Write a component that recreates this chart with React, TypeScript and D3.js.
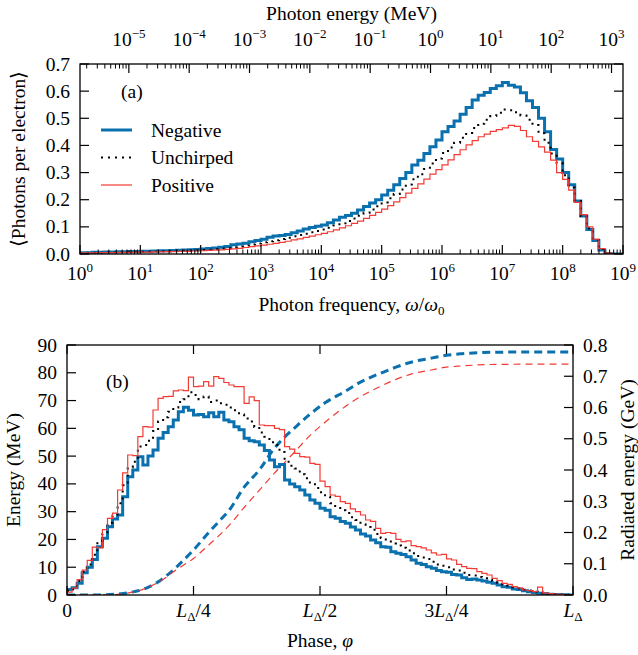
import React from 'react';
import * as d3 from 'd3';

// ---------- Panel (a): photon spectra, 10 log-bins per decade from 10^0 to 10^9 ----------
const freqDecades = [0, 1, 2, 3, 4, 5, 6, 7, 8, 9];
const energyDecades = [-5, -4, -3, -2, -1, 0, 1, 2, 3];
const photonTicks = [0, 0.1, 0.2, 0.3, 0.4, 0.5, 0.6, 0.7];
const photonTickLabels = ['0.0', '0.1', '0.2', '0.3', '0.4', '0.5', '0.6', '0.7'];
const hbarOmega0MeV = 1.55e-6;

const negativeSpectrum = [
  0.005, 0.005, 0.006, 0.006, 0.007, 0.007, 0.008, 0.008, 0.009, 0.009,
  0.010, 0.010, 0.011, 0.012, 0.012, 0.013, 0.014, 0.015, 0.016, 0.017,
  0.018, 0.020, 0.022, 0.025, 0.028, 0.034, 0.037, 0.040, 0.045, 0.050,
  0.054, 0.062, 0.066, 0.068, 0.072, 0.078, 0.085, 0.092, 0.098, 0.102,
  0.107, 0.115, 0.125, 0.135, 0.142, 0.150, 0.162, 0.175, 0.188, 0.200,
  0.217, 0.235, 0.255, 0.278, 0.300, 0.328, 0.345, 0.370, 0.395, 0.420,
  0.450, 0.470, 0.490, 0.515, 0.540, 0.567, 0.585, 0.595, 0.610, 0.620,
  0.632, 0.622, 0.615, 0.594, 0.565, 0.540, 0.500, 0.450, 0.385, 0.350,
  0.300, 0.255, 0.195, 0.140, 0.090, 0.050, 0.015, 0.002, 0, 0,
];
const unchirpedSpectrum = [
  0.004, 0.005, 0.005, 0.005, 0.006, 0.006, 0.007, 0.007, 0.008, 0.008,
  0.008, 0.009, 0.009, 0.010, 0.010, 0.011, 0.012, 0.012, 0.013, 0.014,
  0.015, 0.016, 0.018, 0.020, 0.022, 0.025, 0.028, 0.031, 0.035, 0.039,
  0.043, 0.047, 0.051, 0.055, 0.060, 0.065, 0.070, 0.075, 0.080, 0.085,
  0.090, 0.097, 0.105, 0.113, 0.122, 0.131, 0.141, 0.152, 0.164, 0.176,
  0.190, 0.205, 0.221, 0.238, 0.256, 0.275, 0.294, 0.313, 0.333, 0.352,
  0.372, 0.392, 0.410, 0.428, 0.446, 0.464, 0.480, 0.495, 0.508, 0.520,
  0.532, 0.530, 0.522, 0.510, 0.495, 0.475, 0.445, 0.410, 0.370, 0.335,
  0.290, 0.245, 0.195, 0.140, 0.095, 0.052, 0.018, 0.003, 0, 0,
];
const positiveSpectrum = [
  0.004, 0.004, 0.004, 0.005, 0.005, 0.005, 0.006, 0.006, 0.006, 0.007,
  0.007, 0.007, 0.008, 0.008, 0.009, 0.009, 0.010, 0.010, 0.011, 0.011,
  0.012, 0.013, 0.014, 0.015, 0.017, 0.019, 0.021, 0.024, 0.027, 0.030,
  0.033, 0.036, 0.039, 0.043, 0.047, 0.052, 0.056, 0.061, 0.066, 0.071,
  0.076, 0.082, 0.089, 0.096, 0.104, 0.113, 0.121, 0.131, 0.142, 0.153,
  0.165, 0.178, 0.192, 0.208, 0.224, 0.242, 0.258, 0.276, 0.294, 0.311,
  0.328, 0.347, 0.366, 0.384, 0.402, 0.418, 0.432, 0.442, 0.452, 0.458,
  0.465, 0.474, 0.470, 0.455, 0.432, 0.415, 0.395, 0.375, 0.346, 0.300,
  0.275, 0.235, 0.190, 0.145, 0.100, 0.055, 0.020, 0.004, 0, 0,
];

// ---------- Panel (b): energy vs phase, 100 bins over [0, L_Delta] ----------
const phaseNegative = [
  2.0, 2.6, 4.2, 8.0, 10.0, 12.8, 17.4, 20.4, 24.6, 27.4,
  28.8, 35.4, 42.6, 45.0, 49.8, 46.8, 50.0, 52.2, 56.4, 58.5,
  60.6, 63.0, 66.0, 67.6, 66.5, 64.8, 65.0, 64.2, 65.6, 64.2,
  65.8, 63.0, 62.4, 60.6, 59.5, 56.4, 55.5, 55.2, 54.0, 52.0,
  48.6, 46.2, 47.0, 41.4, 40.0, 39.0, 37.8, 36.0, 34.2, 33.0,
  31.2, 30.5, 28.2, 27.6, 26.5, 25.8, 24.5, 23.4, 22.0, 21.2,
  19.8, 18.8, 17.4, 17.2, 15.6, 15.0, 14.6, 13.8, 12.6, 11.4,
  11.0, 10.2, 9.6, 8.8, 8.4, 8.2, 7.4, 7.2, 6.2, 5.6,
  5.8, 5.4, 5.0, 4.6, 4.2, 3.6, 3.0, 2.8, 2.2, 2.0,
  1.5, 1.2, 0.9, 0.6, 0.5, 0.3, 0.2, 0.1, 0.05, 0.02,
];
const phaseUnchirped = [
  1.5, 2.2, 5.0, 8.5, 11.0, 14.5, 19.5, 22.0, 26.0, 28.5,
  33.0, 39.5, 46.0, 48.0, 53.5, 54.0, 55.5, 59.0, 62.5, 64.0,
  66.0, 67.5, 69.5, 70.5, 73.0, 72.0, 70.5, 71.5, 69.5, 70.0,
  69.0, 68.5, 67.5, 66.5, 65.0, 63.5, 62.5, 60.5, 58.5, 57.0,
  55.0, 54.0, 51.5, 48.0, 46.5, 45.5, 43.5, 42.0, 40.5, 38.5,
  37.0, 35.5, 33.0, 32.0, 30.5, 29.5, 28.0, 27.0, 25.5, 24.5,
  23.5, 22.0, 20.5, 20.0, 18.5, 17.8, 17.0, 16.0, 15.0, 14.0,
  13.5, 13.0, 12.0, 11.0, 10.5, 10.0, 9.2, 8.8, 8.0, 7.2,
  7.0, 6.5, 6.0, 5.5, 5.0, 4.4, 3.8, 3.3, 2.8, 2.4,
  1.9, 1.6, 1.2, 0.9, 0.6, 0.4, 0.25, 0.15, 0.08, 0.03,
];
const phasePositive = [
  1.0, 2.5, 5.5, 9.0, 12.5, 17.2, 17.0, 23.5, 27.6, 29.5,
  37.8, 44.0, 50.4, 50.2, 57.0, 60.6, 60.4, 66.6, 70.8, 71.4,
  71.5, 73.5, 73.8, 73.6, 78.4, 75.0, 75.2, 76.8, 75.2, 78.6,
  78.0, 76.5, 75.6, 75.0, 75.0, 69.0, 71.3, 70.0, 61.2, 61.0,
  61.0, 60.0, 59.5, 53.4, 52.5, 51.0, 49.8, 49.6, 47.4, 47.0,
  41.0, 39.0, 36.0, 35.5, 33.6, 33.0, 31.0, 30.0, 28.8, 27.0,
  26.5, 24.0, 22.2, 22.5, 22.2, 20.0, 19.2, 19.5, 17.8, 17.4,
  17.0, 16.2, 15.2, 14.4, 14.6, 13.0, 12.6, 11.0, 10.2, 9.6,
  9.5, 8.4, 7.8, 7.2, 6.0, 5.2, 4.2, 3.8, 3.0, 2.6,
  1.8, 1.6, 1.2, 2.8, 0.8, 0.5, 0.3, 0.2, 0.1, 0.05,
];

// radiated (cumulative) energy, GeV, sampled in phase fraction
const radPhaseNegative = [0, 0.06, 0.10, 0.12, 0.15, 0.18, 0.20, 0.22, 0.25, 0.28, 0.30, 0.32, 0.35, 0.38, 0.41, 0.43, 0.45, 0.48, 0.51, 0.55, 0.58, 0.62, 0.65, 0.68, 0.72, 0.75, 0.78, 0.85, 1.0];
const radNegative = [0, 0, 0.003, 0.007, 0.018, 0.042, 0.066, 0.095, 0.144, 0.2, 0.235, 0.27, 0.345, 0.4, 0.47, 0.505, 0.535, 0.578, 0.615, 0.652, 0.681, 0.71, 0.729, 0.745, 0.758, 0.767, 0.772, 0.777, 0.778];
const radPhasePositive = [0, 0.06, 0.10, 0.12, 0.15, 0.18, 0.22, 0.25, 0.28, 0.32, 0.35, 0.38, 0.41, 0.45, 0.48, 0.51, 0.55, 0.58, 0.62, 0.65, 0.68, 0.72, 0.75, 0.78, 0.85, 1.0];
const radPositive = [0, 0, 0.002, 0.006, 0.018, 0.04, 0.085, 0.117, 0.16, 0.222, 0.28, 0.335, 0.39, 0.458, 0.51, 0.553, 0.603, 0.635, 0.668, 0.69, 0.707, 0.72, 0.729, 0.733, 0.738, 0.739];

const energyTicks = [0, 10, 20, 30, 40, 50, 60, 70, 80, 90];
const radTicks = [0, 0.1, 0.2, 0.3, 0.4, 0.5, 0.6, 0.7, 0.8];
const radTickLabels = ['0.0', '0.1', '0.2', '0.3', '0.4', '0.5', '0.6', '0.7', '0.8'];
const phaseTicks = [0, 0.25, 0.5, 0.75, 1];
const phaseTickLabels = [['0', '', ''], ['', '', '/4'], ['', '', '/2'], ['3', '', '/4'], ['', '', '']];

const BLUE = '#0a70ae';
const RED = '#f23b35';
const FONT = "'Liberation Serif', 'Times New Roman', serif";
const FS = 19.5;
const SUB = 13;

type Sc = (v: number) => number;

function stepPath(edges: number[], vals: number[], x: Sc, y: Sc): string {
  const pts: [number, number][] = vals.map((v, i) => [x(edges[i]), y(v)]);
  pts.push([x(edges[vals.length]), y(vals[vals.length - 1])]);
  return d3.line().curve(d3.curveStepAfter)(pts) || '';
}

function Pow10({ x, y, e }: { x: number; y: number; e: number }) {
  const s = e < 0 ? '\u2212' + Math.abs(e) : String(e);
  return (
    <text x={x} y={y} textAnchor="middle" fontFamily={FONT} fontSize={FS}>
      10<tspan dy={-8} fontSize={SUB}>{s}</tspan>
    </text>
  );
}

export default function App() {
  // ---- panel a ----
  const A = { l: 80, r: 623, t: 64, b: 254 };
  const xa = d3.scaleLog().domain([1, 1e9]).range([A.l, A.r]);
  const xe = d3.scaleLog().domain([hbarOmega0MeV, hbarOmega0MeV * 1e9]).range([A.l, A.r]);
  const ya = d3.scaleLinear().domain([0, 0.7]).range([A.b, A.t]);
  const edgesA = d3.range(negativeSpectrum.length + 1).map((i) => Math.pow(10, i / 10));

  const minorFreq: number[] = [];
  freqDecades.slice(0, -1).forEach((d) => {
    for (let m = 2; m <= 9; m++) minorFreq.push(m * Math.pow(10, d));
  });
  const minorEnergy: number[] = [];
  for (let d = -6; d <= 3; d++) {
    for (let m = 2; m <= 9; m++) {
      const v = m * Math.pow(10, d);
      if (v > hbarOmega0MeV && v < hbarOmega0MeV * 1e9) minorEnergy.push(v);
    }
  }

  // ---- panel b ----
  const B = { l: 67, r: 573, t: 345, b: 595 };
  const xb = d3.scaleLinear().domain([0, 1]).range([B.l, B.r]);
  const yb = d3.scaleLinear().domain([0, 90]).range([B.b, B.t]);
  const yr = d3.scaleLinear().domain([0, 0.8]).range([B.b, B.t]);
  const edgesB = d3.range(phaseNegative.length + 1).map((i) => i / phaseNegative.length);
  const radLine = (fs: number[], vs: number[]) =>
    d3.line<number>().x((_, i) => xb(fs[i])).y((v) => yr(v)).curve(d3.curveMonotoneX)(vs) || '';

  const MAJ = 9;
  const MIN = 4.5;
  const axisStroke = { stroke: '#000', strokeWidth: 1.3, fill: 'none' } as const;

  return (
    <svg width={638} height={655} style={{ position: 'absolute', left: 0, top: 0, background: '#fff' }}>
      <defs>
        <clipPath id="clipA"><rect x={A.l} y={A.t - 2} width={A.r - A.l} height={A.b - A.t + 2} /></clipPath>
        <clipPath id="clipB"><rect x={B.l} y={B.t - 2} width={B.r - B.l} height={B.b - B.t + 2} /></clipPath>
      </defs>

      {/* ================= Panel (a) ================= */}
      <g clipPath="url(#clipA)">
        <path d={stepPath(edgesA, negativeSpectrum, xa, ya)} fill="none" stroke={BLUE} strokeWidth={3} />
        <path d={stepPath(edgesA, unchirpedSpectrum, xa, ya)} fill="none" stroke="#000" strokeWidth={2} strokeDasharray="2,5" />
        <path d={stepPath(edgesA, positiveSpectrum, xa, ya)} fill="none" stroke={RED} strokeWidth={1.2} />
      </g>
      <rect x={A.l} y={A.t} width={A.r - A.l} height={A.b - A.t} {...axisStroke} />
      {photonTicks.map((t, i) => (
        <g key={'pt' + i}>
          <line x1={A.l} x2={A.l + MAJ} y1={ya(t)} y2={ya(t)} stroke="#000" strokeWidth={1.2} />
          <line x1={A.r} x2={A.r - MAJ} y1={ya(t)} y2={ya(t)} stroke="#000" strokeWidth={1.2} />
          <text x={70} y={ya(t) + 6.5} textAnchor="end" fontFamily={FONT} fontSize={FS}>{photonTickLabels[i]}</text>
        </g>
      ))}
      {freqDecades.map((d) => (
        <g key={'fd' + d}>
          <line x1={xa(Math.pow(10, d))} x2={xa(Math.pow(10, d))} y1={A.b} y2={A.b - MAJ} stroke="#000" strokeWidth={1.2} />
          <Pow10 x={xa(Math.pow(10, d))} y={280} e={d} />
        </g>
      ))}
      {minorFreq.map((v, i) => (
        <line key={'fm' + i} x1={xa(v)} x2={xa(v)} y1={A.b} y2={A.b - MIN} stroke="#000" strokeWidth={1} />
      ))}
      {energyDecades.map((d) => (
        <g key={'ed' + d}>
          <line x1={xe(Math.pow(10, d))} x2={xe(Math.pow(10, d))} y1={A.t} y2={A.t + MAJ} stroke="#000" strokeWidth={1.2} />
          <Pow10 x={xe(Math.pow(10, d))} y={46} e={d} />
        </g>
      ))}
      {minorEnergy.map((v, i) => (
        <line key={'em' + i} x1={xe(v)} x2={xe(v)} y1={A.t} y2={A.t + MIN} stroke="#000" strokeWidth={1} />
      ))}
      <text x={351.5} y={20} textAnchor="middle" fontFamily={FONT} fontSize={FS}>Photon energy (MeV)</text>
      <text x={351.5} y={311} textAnchor="middle" fontFamily={FONT} fontSize={FS}>
        Photon frequency,  <tspan fontStyle="italic">ω</tspan>/<tspan fontStyle="italic">ω</tspan><tspan dy={4} fontSize={SUB}>0</tspan>
      </text>
      <text transform="translate(25,159) rotate(-90)" textAnchor="middle" fontFamily={FONT} fontSize={FS}>⟨Photons per electron⟩</text>
      <text x={121} y={98} fontFamily={FONT} fontSize={FS}>(a)</text>

      {/* legend */}
      <line x1={101} x2={132} y1={130} y2={130} stroke={BLUE} strokeWidth={3} />
      <line x1={101} x2={132} y1={157.5} y2={157.5} stroke="#000" strokeWidth={2} strokeDasharray="2,5" />
      <line x1={101} x2={132} y1={185} y2={185} stroke={RED} strokeWidth={1.2} />
      <text x={151} y={136.5} fontFamily={FONT} fontSize={FS}>Negative</text>
      <text x={151} y={164} fontFamily={FONT} fontSize={FS}>Unchirped</text>
      <text x={151} y={191.5} fontFamily={FONT} fontSize={FS}>Positive</text>

      {/* ================= Panel (b) ================= */}
      <g clipPath="url(#clipB)">
        <path d={radLine(radPhaseNegative, radNegative)} fill="none" stroke={BLUE} strokeWidth={3} strokeDasharray="8,5" />
        <path d={radLine(radPhasePositive, radPositive)} fill="none" stroke={RED} strokeWidth={1.2} strokeDasharray="7,5" />
        <path d={stepPath(edgesB, phaseNegative, xb, yb)} fill="none" stroke={BLUE} strokeWidth={3} />
        <path d={stepPath(edgesB, phaseUnchirped, xb, yb)} fill="none" stroke="#000" strokeWidth={2} strokeDasharray="2,5" />
        <path d={stepPath(edgesB, phasePositive, xb, yb)} fill="none" stroke={RED} strokeWidth={1.2} />
      </g>
      <rect x={B.l} y={B.t} width={B.r - B.l} height={B.b - B.t} {...axisStroke} />
      {energyTicks.map((t) => (
        <g key={'et' + t}>
          <line x1={B.l} x2={B.l + MAJ} y1={yb(t)} y2={yb(t)} stroke="#000" strokeWidth={1.2} />
          <text x={57} y={yb(t) + 6.5} textAnchor="end" fontFamily={FONT} fontSize={FS}>{t}</text>
        </g>
      ))}
      {radTicks.map((t, i) => (
        <g key={'rt' + i}>
          <line x1={B.r} x2={B.r - MAJ} y1={yr(t)} y2={yr(t)} stroke="#000" strokeWidth={1.2} />
          <text x={583} y={yr(t) + 6.5} textAnchor="start" fontFamily={FONT} fontSize={FS}>{radTickLabels[i]}</text>
        </g>
      ))}
      {phaseTicks.map((t, i) => (
        <g key={'ph' + i}>
          <line x1={xb(t)} x2={xb(t)} y1={B.b} y2={B.b - MAJ} stroke="#000" strokeWidth={1.2} />
          <line x1={xb(t)} x2={xb(t)} y1={B.t} y2={B.t + MAJ} stroke="#000" strokeWidth={1.2} />
          <text x={xb(t)} y={617} textAnchor="middle" fontFamily={FONT} fontSize={FS}>
            {i === 0 ? '0' : (
              <>
                {phaseTickLabels[i][0]}
                <tspan fontStyle="italic">L</tspan>
                <tspan dy={4} fontSize={SUB}>Δ</tspan>
                <tspan dy={-4}>{phaseTickLabels[i][2]}</tspan>
              </>
            )}
          </text>
        </g>
      ))}
      <text x={320} y={647} textAnchor="middle" fontFamily={FONT} fontSize={FS}>
        Phase,  <tspan fontStyle="italic">φ</tspan>
      </text>
      <text transform="translate(20,470) rotate(-90)" textAnchor="middle" fontFamily={FONT} fontSize={FS}>Energy (MeV)</text>
      <text transform="translate(634,470) rotate(-90)" textAnchor="middle" fontFamily={FONT} fontSize={FS}>Radiated energy (GeV)</text>
      <text x={106} y={388} fontFamily={FONT} fontSize={FS}>(b)</text>
    </svg>
  );
}
